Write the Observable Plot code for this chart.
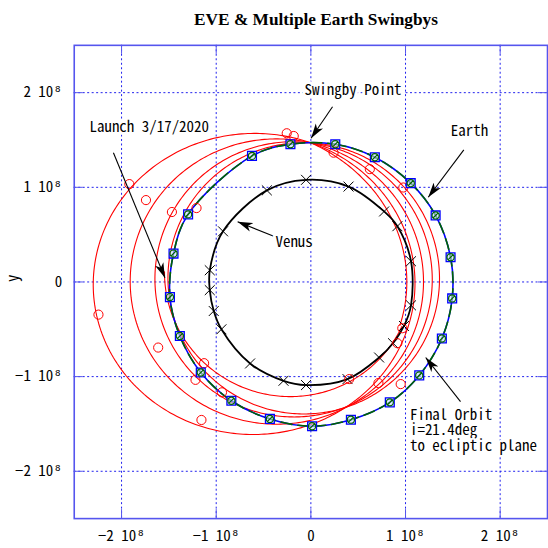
<!DOCTYPE html>
<html><head><meta charset="utf-8">
<script src="https://cdn.jsdelivr.net/npm/d3@7"></script>
<script src="https://cdn.jsdelivr.net/npm/@observablehq/plot@0.6"></script>
<style>
html,body{margin:0;padding:0;background:#fff;overflow:hidden;width:548px;height:548px;}
#wrap{position:relative;width:548px;height:548px;overflow:hidden;}
#title{position:absolute;left:0;top:10px;width:632px;text-align:center;line-height:20px;font:bold 17.3px "Liberation Serif","Times New Roman",serif;z-index:2;}
#chart{position:absolute;left:0;top:0;}
</style></head><body><div id="wrap"><div id="title">EVE &amp; Multiple Earth Swingbys</div><div id="chart"></div></div>
<script>
// units: 1e8 km
const xTicks = [-2, -1, 0, 1, 2];
const yTicks = [-2, -1, 0, 1, 2];
const tickLabel = d => d === 0 ? "0" : `${d < 0 ? "−" : ""}${Math.abs(d)} 10⁸`;

// Earth orbit markers
const earthX = [-0.216, 0.258, 0.676, 1.055, 1.318, 1.476, 1.493, 1.384, 1.145, 0.834, 0.423, 0.013, -0.433, -0.84, -1.163, -1.384, -1.489, -1.451, -1.297, -0.622];
const earthY = [1.455, 1.455, 1.318, 1.044, 0.703, 0.261, -0.174, -0.597, -0.987, -1.272, -1.455, -1.524, -1.447, -1.255, -0.956, -0.571, -0.16, 0.3, 0.714, 1.332];

// Venus orbit markers
const venusX = [-0.051, 0.398, 0.774, 0.914, 1.058, 1.058, 0.984, 0.868, 0.721, 0.387, -0.051, -0.289, -0.642, -0.945, -1.026, -1.068, -1.068, -0.928, -0.465];
const venusY = [1.079, 1.008, 0.745, 0.589, 0.219, -0.247, -0.465, -0.647, -0.798, -1.026, -1.089, -1.044, -0.861, -0.5, -0.307, -0.086, 0.124, 0.535, 0.968];

// Spacecraft markers
const scX = [-1.918, -1.742, -1.468, -1.208, -2.244, -1.613, -1.128, -1.219, -0.939, -1.156, -0.255, -0.181, 0.24, 0.623, 0.977, 0.966, 0.914, 0.714, 0.949, 0.405];
const scY = [1.034, 0.865, 0.739, 0.781, -0.345, -0.693, -0.858, -1.034, -1.166, -1.458, 1.571, 1.542, 1.366, 1.192, 0.998, -0.489, -0.647, -1.068, -1.079, -1.026];

// Spacecraft trajectory arcs: conic elements estimated from the chart (Sun at focus)
const arcP = [1.27, 1.47, 1.488, 1.466, 1.442, 1.43];     // semi-latus rectum
const arcE = [0.188, 0.45, 0.353, 0.232, 0.126, 0.059];  // eccentricity
const arcW = [-20, 0, 2, -0.7, -8.7, -27];               // perihelion direction (deg)
const arcFrom = [176, -26, 90, 90, 90, 90];              // start angle (deg)
const arcTo = [334, 90, 450, 450, 450, 450];             // end angle (deg)

// Annotations
const noteText = ["Swingby Point", "Launch 3/17/2020", "Venus", "Earth"];
const noteX = [-0.068, -2.339, -0.374, 1.479];
const noteY = [2.026, 1.64, 0.419, 1.595];
const finalText = ["Final Orbit\ni=21.4deg\nto ecliptic plane"];
const finalX = [1.047];
const finalY = [-1.337];
const arrowX1 = [0.229, -2.086, -0.392, 1.616, 1.581];
const arrowY1 = [1.851, 1.366, 0.482, 1.395, -1.265];
const arrowX2 = [0.002, -1.542, -0.774, 1.24, 1.213];
const arrowY2 = [1.518, 0.044, 0.637, 0.895, -0.798];

const earth = earthX.map((x, i) => ({x, y: earthY[i]}));
const venus = venusX.map((x, i) => ({x, y: venusY[i]}));
const sc = scX.map((x, i) => ({x, y: scY[i]}));
const arcs = [];
arcP.forEach((p, k) => {
  for (let t = arcFrom[k]; t <= arcTo[k] + 1e-9; t += 1) {
    const th = t * Math.PI / 180;
    const r = p / (1 + arcE[k] * Math.cos(th - arcW[k] * Math.PI / 180));
    arcs.push({k, x: r * Math.cos(th), y: r * Math.sin(th)});
  }
});
const notes = noteText.map((t, i) => ({t, x: noteX[i], y: noteY[i]}));
const finalNote = finalText.map((t, i) => ({t, x: finalX[i], y: finalY[i]}));
const arrows = arrowX1.map((x1, i) => ({x1, y1: arrowY1[i], x2: arrowX2[i], y2: arrowY2[i]}));

const circleSlash = {
  draw(ctx, size) {
    const r = Math.sqrt(size / Math.PI);
    ctx.moveTo(r, 0); ctx.arc(0, 0, r, 0, 2 * Math.PI);
    ctx.moveTo(-r * 0.8, r * 0.8); ctx.lineTo(r * 0.8, -r * 0.8);
  }
};
function arrowHead(color) {
  const ns = "http://www.w3.org/2000/svg";
  const m = document.createElementNS(ns, "marker");
  m.setAttribute("viewBox", "-15 -5 15 10");
  m.setAttribute("markerWidth", 15); m.setAttribute("markerHeight", 10);
  m.setAttribute("markerUnits", "userSpaceOnUse");
  m.setAttribute("orient", "auto");
  m.setAttribute("refX", 0); m.setAttribute("refY", 0);
  const p = document.createElementNS(ns, "path");
  p.setAttribute("d", "M0,0L-15,-4.5L-11,0L-15,4.5Z");
  p.setAttribute("fill", "black"); p.setAttribute("stroke", "none");
  m.appendChild(p);
  return m;
}

const font = '"Noto Sans Mono CJK JP","Noto Sans CJK JP","DejaVu Sans Mono",monospace';
const gridBlue = "#2020ee";
const frameBlue = "#5555ee";
const tk = 0.095;

const chart = Plot.plot({
  width: 550, height: 548,
  marginLeft: 74, marginRight: 1, marginTop: 45, marginBottom: 28,
  x: {domain: [-2.5, 2.5]},
  y: {domain: [-2.5, 2.5]},
  style: {fontFamily: font, fontSize: "15px", color: "black", background: "white"},
  marks: [
    Plot.gridX(xTicks, {stroke: gridBlue, strokeOpacity: 1, strokeDasharray: "2,2.5"}),
    Plot.gridY(yTicks, {stroke: gridBlue, strokeOpacity: 1, strokeDasharray: "2,2.5"}),
    Plot.ruleX(xTicks, {y1: -2.5, y2: -2.5 + tk, stroke: frameBlue}),
    Plot.ruleX(xTicks, {y1: 2.5, y2: 2.5 - tk, stroke: frameBlue}),
    Plot.ruleY(yTicks, {x1: -2.5, x2: -2.5 + tk, stroke: frameBlue}),
    Plot.ruleY(yTicks, {x1: 2.5, x2: 2.5 - tk, stroke: frameBlue}),
    Plot.axisX({ticks: xTicks, tickFormat: tickLabel, tickSize: 0, tickPadding: 12, label: null, fontSize: 15}),
    Plot.axisY({ticks: yTicks, tickFormat: tickLabel, tickSize: 0, tickPadding: 12, label: null, fontSize: 15}),
    Plot.text(["y"], {frameAnchor: "left", dx: -61, rotate: -90, fontSize: 15}),
    Plot.line(arcs, {x: "x", y: "y", z: "k", stroke: "#ff0000", strokeWidth: 1.1}),
    Plot.line(earth, {x: "x", y: "y", curve: "catmull-rom-closed", stroke: "#0000ff", strokeWidth: 1.6}),
    Plot.line(earth, {x: "x", y: "y", curve: "catmull-rom-closed", stroke: "#006400", strokeWidth: 1.6, strokeDasharray: "11,6"}),
    Plot.line(venus, {x: "x", y: "y", curve: "catmull-rom-closed", stroke: "black", strokeWidth: 1.8}),
    Plot.dot(venus, {x: "x", y: "y", symbol: "times", r: 4.6, stroke: "black", strokeWidth: 1}),
    Plot.dot(sc, {x: "x", y: "y", symbol: "circle", r: 4.6, stroke: "#ff0000", strokeWidth: 1, fill: "none"}),
    Plot.dot(earth, {x: "x", y: "y", symbol: "square", r: 5, stroke: "#0000ff", strokeWidth: 1.3, fill: "#c8d8ff", fillOpacity: 0.6}),
    Plot.dot(earth, {x: "x", y: "y", symbol: circleSlash, r: 3.6, stroke: "#006400", strokeWidth: 1.2, fill: "none"}),
    Plot.link(arrows, {x1: "x1", y1: "y1", x2: "x2", y2: "y2", stroke: "black", strokeWidth: 1.1, markerEnd: arrowHead}),
    Plot.text(notes, {x: "x", y: "y", text: "t", textAnchor: "start", fontSize: 15, fill: "black", stroke: "white", strokeWidth: 6}),
    Plot.text(finalNote, {x: "x", y: "y", text: "t", textAnchor: "start", lineAnchor: "top", lineHeight: 1.04, fontSize: 15, fill: "black", stroke: "white", strokeWidth: 4}),
    Plot.frame({stroke: frameBlue, strokeWidth: 1.6})
  ]
});
document.getElementById("chart").appendChild(chart);
</script>
</body></html>
